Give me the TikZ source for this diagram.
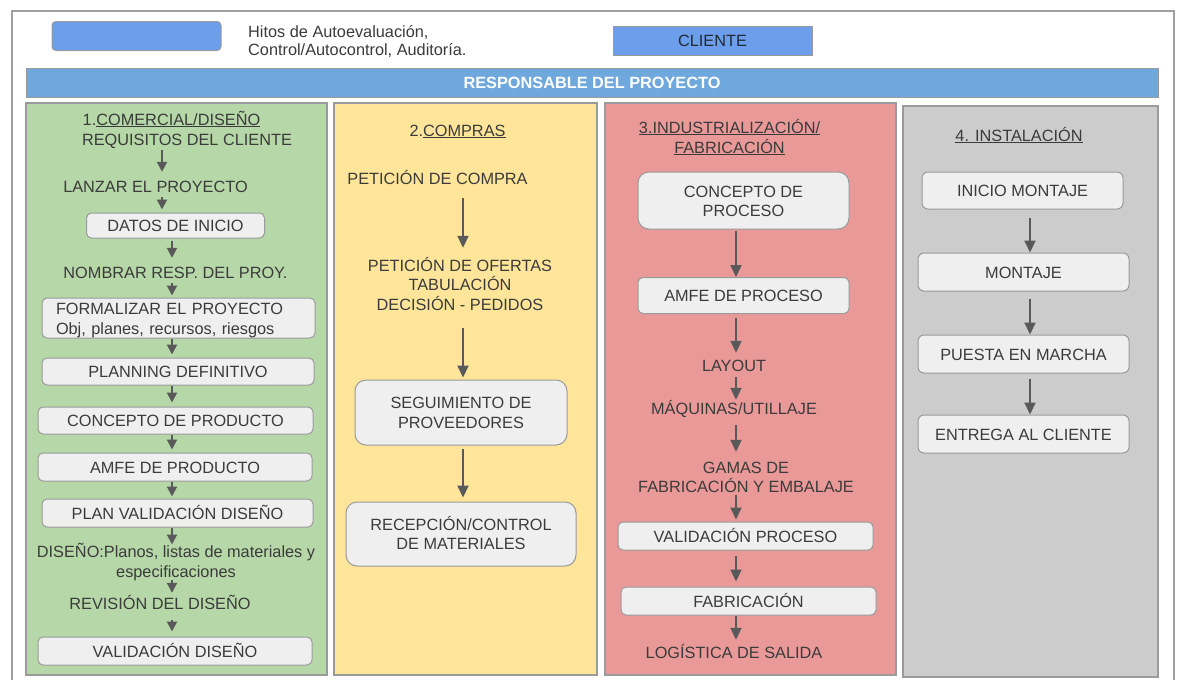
\documentclass[tikz,border=0pt]{standalone}
\usepackage{fontspec}
\setmainfont{Liberation Sans}
\usetikzlibrary{arrows.meta}
\definecolor{ink}{HTML}{3B3B3B}
\definecolor{inknavy}{HTML}{1F2937}
\definecolor{edge}{HTML}{9A9A9A}
\definecolor{framegray}{HTML}{A0A0A0}
\definecolor{arrowgray}{HTML}{595959}
\definecolor{boxfill}{HTML}{EFEFEF}
\definecolor{legendblue}{HTML}{6D9EEB}
\definecolor{barblue}{HTML}{6FA8DC}
\definecolor{lanegreen}{HTML}{B6D7A8}
\definecolor{laneyellow}{HTML}{FFE599}
\definecolor{lanered}{HTML}{EA9999}
\definecolor{lanegray}{HTML}{CCCCCC}
% struts that keep multi-line labels centred on their capitals
\newcommand\firstline{\rule{0pt}{16pt}}
\newcommand\lastline{\rule[-4pt]{0pt}{4pt}}
\begin{document}
\begin{tikzpicture}[x=1pt,y=-1pt,
  every node/.style={font=\fontsize{16.3}{20}\selectfont, text=ink, inner sep=0pt},
  lbl/.style={text height=16pt, text depth=4pt},
  lbls/.style={align=center},
  lane/.style={draw=edge, line width=1.3pt},
  stepbox/.style={lbl, draw=edge, fill=boxfill, line width=1pt, rounded corners=5pt},
  bigbox/.style={align=center, draw=edge, fill=boxfill, line width=1pt, rounded corners=11pt},
  arr/.style={draw=arrowgray, line width=2pt, -{Triangle[width=11pt,length=12pt]}},
  arrs/.style={draw=arrowgray, line width=2pt, -{Triangle[width=10pt,length=10pt]}},
]
\useasboundingbox (0,0) rectangle (1181,680);
\clip (0,0) rectangle (1181,680);

% outer frame (open at the bottom)
\draw[framegray, line width=1.5pt] (12,700) -- (12,11) -- (1174,11) -- (1174,700);

% legend
\node[draw=edge, fill=legendblue, rounded corners=4pt, line width=1pt,
      minimum width=169pt, minimum height=29pt] (legend) at (136.5,36) {};
\node[anchor=west, align=left, font=\fontsize{16.3}{18}\selectfont] (hitos) at (248,40)
  {\firstline Hitos de Autoevaluación,\\Control/Autocontrol, Auditoría.\lastline};
\node[lbl, draw=edge, fill=legendblue, line width=1pt, text=inknavy,
      minimum width=199pt, minimum height=29pt] (cliente) at (712.5,40.5) {CLIENTE};

% project owner bar
\node[lbl, draw=edge, fill=barblue, line width=1pt, text=white,
      font=\fontsize{16.3}{20}\selectfont\bfseries,
      minimum width=1132pt, minimum height=29pt] (resp) at (592,82.5) {RESPONSABLE DEL PROYECTO};

% lanes
\draw[lane, fill=lanegreen]  (26,103) rectangle (327,675);
\draw[lane, fill=laneyellow] (334,103) rectangle (597,675);
\draw[lane, fill=lanered]    (605,103) rectangle (896,675);
\draw[lane, fill=lanegray]   (903,106) rectangle (1158,677);

% ---------- lane 1: comercial / diseño ----------
\node[lbl] (h1) at (171.5,119) {1.\underline{COMERCIAL/DISEÑO}};
\node[lbl] (req) at (187,139) {REQUISITOS DEL CLIENTE};
\node[lbl] (lanz) at (155.5,186) {LANZAR EL PROYECTO};
\node[stepbox, minimum width=178pt, minimum height=25pt] (dat) at (175.5,225.5) {DATOS DE INICIO};
\node[lbl] (nomb) at (175.5,272) {NOMBRAR RESP. DEL PROY.};
\node[draw=edge, fill=boxfill, line width=1pt, rounded corners=5pt,
      minimum width=273pt, minimum height=38pt, text width=245pt, align=left] (form) at (178.5,318)
  {\firstline FORMALIZAR EL PROYECTO\\Obj, planes, recursos, riesgos\lastline};
\node[stepbox, minimum width=272pt, minimum height=27pt] (plan) at (178,371.5) {PLANNING DEFINITIVO};
\node[stepbox, minimum width=275pt, minimum height=27pt] (conc) at (175.5,420.5) {CONCEPTO DE PRODUCTO};
\node[stepbox, minimum width=274pt, minimum height=28pt] (amfe) at (175,467) {AMFE DE PRODUCTO};
\node[stepbox, minimum width=271pt, minimum height=28pt] (pval) at (177.5,513) {PLAN VALIDACIÓN DISEÑO};
\node[lbls] (dis) at (176,561.7) {\firstline DISEÑO:Planos, listas de materiales y\\especificaciones\lastline};
\node[lbl] (rev) at (160,603) {REVISIÓN DEL DISEÑO};
\node[stepbox, minimum width=274pt, minimum height=28pt] (vald) at (175,651) {VALIDACIÓN DISEÑO};

\coordinate (axA) at (162,0);
\coordinate (axB) at (172,0);
\draw[arrs, shorten <=1pt, shorten >=4pt] (req.south -| axA) -- (lanz.north -| axA);
\draw[arrs, shorten <=1pt, shorten >=3pt] (lanz.south -| axA) -- (dat.north -| axA);
\draw[arrs, shorten <=2pt, shorten >=4pt] (dat.south -| axB) -- (nomb.north -| axB);
\draw[arrs, shorten <=1pt, shorten >=2pt] (nomb.south -| axB) -- (form.north -| axB);
\draw[arrs, shorten >=3pt] (form.south -| axB) -- (plan.north -| axB);
\draw[arrs, shorten >=4pt] (plan.south -| axB) -- (conc.north -| axB);
\draw[arrs, shorten >=3pt] (conc.south -| axB) -- (amfe.north -| axB);
\draw[arrs, shorten >=2pt] (amfe.south -| axB) -- (pval.north -| axB);
\draw[arrs, shorten >=-3pt] (pval.south -| axB) -- (dis.north -| axB);
\draw[arrs, shorten <=-2pt] (dis.south -| axB) -- (rev.north -| axB);
\draw[arrs, shorten <=7pt, shorten >=5pt] (rev.south -| axB) -- (vald.north -| axB);

% ---------- lane 2: compras ----------
\node[lbl] (h2) at (457.5,130) {2.\underline{COMPRAS}};
\node[lbl] (pc) at (437.5,178) {PETICIÓN DE COMPRA};
\node[lbls, font=\fontsize{16.3}{19.5}\selectfont] (pof) at (460,284.5)
  {\firstline PETICIÓN DE OFERTAS\\TABULACIÓN\\DECISIÓN - PEDIDOS\lastline};
\node[bigbox, minimum width=212pt, minimum height=65pt] (seg) at (461,412.5)
  {\firstline SEGUIMIENTO DE\\PROVEEDORES\lastline};
\node[bigbox, minimum width=230pt, minimum height=64pt, font=\fontsize{16.3}{19}\selectfont] (rec) at (461,534)
  {\firstline RECEPCIÓN/CONTROL\\DE MATERIALES\lastline};

\coordinate (axC) at (463,0);
\draw[arr, shorten <=10pt, shorten >=7pt] (pc.south -| axC) -- (pof.north -| axC);
\draw[arr, shorten <=14pt, shorten >=2pt] (pof.south -| axC) -- (seg.north -| axC);
\draw[arr, shorten <=3pt, shorten >=4pt] (seg.south -| axC) -- (rec.north -| axC);

% ---------- lane 3: industrialización / fabricación ----------
\node[lbls] (h3) at (729.5,137)
  {\firstline\underline{3.INDUSTRIALIZACIÓN/}\\\underline{FABRICACIÓN}\lastline};
\node[bigbox, minimum width=211pt, minimum height=57pt, font=\fontsize{16.3}{19}\selectfont] (cp) at (743.5,200.5)
  {\firstline CONCEPTO DE\\PROCESO\lastline};
\node[stepbox, minimum width=211pt, minimum height=36pt] (ap) at (743.5,295.5) {AMFE DE PROCESO};
\node[lbl] (lay) at (734,365) {LAYOUT};
\node[lbl] (maq) at (734,408) {MÁQUINAS/UTILLAJE};
\node[lbls, font=\fontsize{16.3}{19}\selectfont] (gam) at (746,476.5)
  {\firstline GAMAS DE\\FABRICACIÓN Y EMBALAJE\lastline};
\node[stepbox, minimum width=255pt, minimum height=28pt] (vp) at (745.5,536) {VALIDACIÓN PROCESO};
\node[stepbox, minimum width=255pt, minimum height=28pt] (fab) at (748.5,601) {FABRICACIÓN};
\node[lbl] (log) at (734,652) {LOGÍSTICA DE SALIDA};

\coordinate (axD) at (736,0);
\draw[arr, shorten <=1pt] (cp.south -| axD) -- (ap.north -| axD);
\draw[arr, shorten <=4pt, shorten >=2pt] (ap.south -| axD) -- (lay.north -| axD);
\draw[arr, shorten <=2pt, shorten >=-2pt] (lay.south -| axD) -- (maq.north -| axD);
\draw[arr, shorten <=7pt, shorten >=5pt] (maq.south -| axD) -- (gam.north -| axD);
\draw[arr, shorten <=-1pt, shorten >=2pt] (gam.south -| axD) -- (vp.north -| axD);
\draw[arr, shorten <=5pt, shorten >=5pt] (vp.south -| axD) -- (fab.north -| axD);
\draw[arr, shorten >=2pt] (fab.south -| axD) -- (log.north -| axD);

% ---------- lane 4: instalación ----------
\node[lbl] (h4) at (1019,135) {\underline{4. INSTALACIÓN}};
\node[stepbox, rounded corners=6pt, minimum width=201pt, minimum height=37pt] (im) at (1022.5,190.5) {INICIO MONTAJE};
\node[stepbox, rounded corners=6pt, minimum width=211pt, minimum height=38pt] (mo) at (1023.5,272) {MONTAJE};
\node[stepbox, rounded corners=6pt, minimum width=211pt, minimum height=38pt] (pm) at (1023.5,354) {PUESTA EN MARCHA};
\node[stepbox, rounded corners=6pt, minimum width=211pt, minimum height=38pt] (eac) at (1023.5,434) {ENTREGA AL CLIENTE};

\coordinate (axE) at (1030,0);
\draw[arr, shorten <=8pt] (im.south -| axE) -- (mo.north -| axE);
\draw[arr, shorten <=7pt] (mo.south -| axE) -- (pm.north -| axE);
\draw[arr, shorten <=5pt] (pm.south -| axE) -- (eac.north -| axE);
\end{tikzpicture}
\end{document}
